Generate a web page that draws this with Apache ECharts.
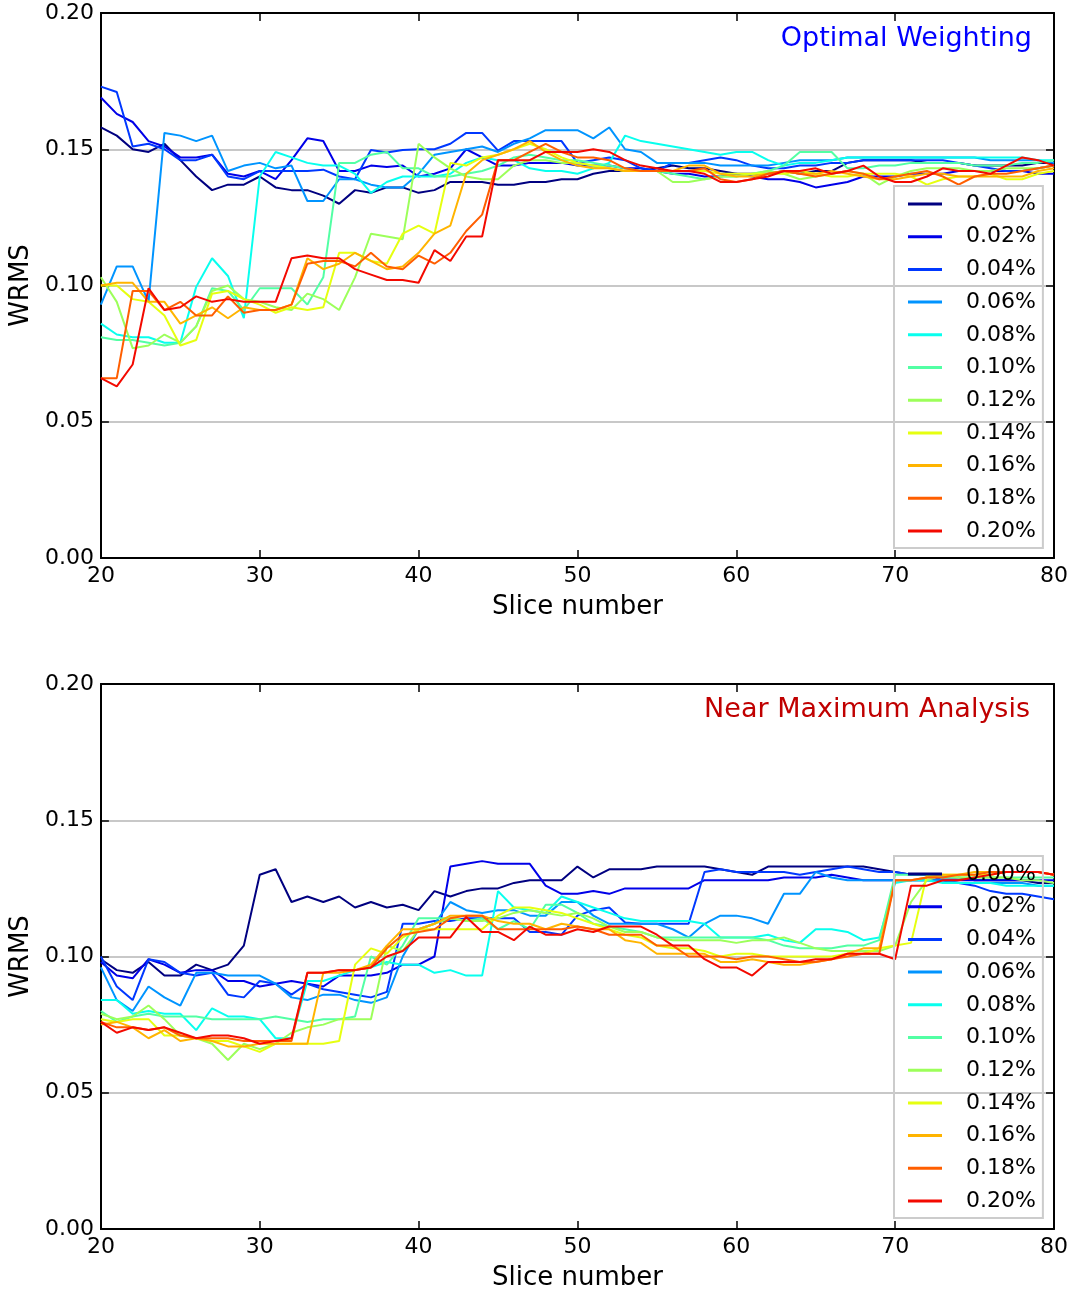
<!DOCTYPE html>
<html>
<head>
<meta charset="utf-8">
<script src="https://cdn.jsdelivr.net/npm/echarts@6/dist/echarts.min.js"></script>
<style>
  html, body { margin: 0; padding: 0; background: #ffffff; }
  #chart { width: 1072px; height: 1293px; }
</style>
</head>
<body>
<div id="chart"></div>
<script>
// Slice numbers shared by both panels
const slices = [20,21,22,23,24,25,26,27,28,29,30,31,32,33,34,35,36,37,38,39,
                40,41,42,43,44,45,46,47,48,49,50,51,52,53,54,55,56,57,58,59,
                60,61,62,63,64,65,66,67,68,69,70,71,72,73,74,75,76,77,78,79,80];

const seriesNames = ['0.00%','0.02%','0.04%','0.06%','0.08%','0.10%','0.12%','0.14%','0.16%','0.18%','0.20%'];
const yTicks = ['0.00','0.05','0.10','0.15','0.20'];

// ---- Optimal Weighting: WRMS per slice ----
const ow00 = [0.158,0.155,0.150,0.149,0.152,0.146,0.140,0.135,0.137,0.137,
              0.140,0.136,0.135,0.135,0.133,0.130,0.135,0.134,0.136,0.136,
              0.134,0.135,0.138,0.138,0.138,0.137,0.137,0.138,0.138,0.139,
              0.139,0.141,0.142,0.142,0.142,0.143,0.144,0.143,0.143,0.142,
              0.141,0.141,0.141,0.142,0.141,0.142,0.142,0.145,0.146,0.146,
              0.146,0.146,0.145,0.145,0.145,0.144,0.144,0.144,0.144,0.145,0.145];
const ow02 = [0.169,0.163,0.160,0.153,0.151,0.147,0.147,0.148,0.141,0.140,
              0.142,0.139,0.146,0.154,0.153,0.142,0.142,0.144,0.1435,0.144,
              0.140,0.141,0.143,0.150,0.147,0.144,0.144,0.145,0.145,0.145,
              0.144,0.144,0.144,0.143,0.143,0.142,0.141,0.141,0.140,0.140,
              0.141,0.140,0.139,0.139,0.138,0.136,0.137,0.138,0.140,0.140,
              0.140,0.141,0.141,0.141,0.142,0.142,0.142,0.142,0.142,0.141,0.141];
const ow04 = [0.173,0.171,0.151,0.152,0.150,0.146,0.146,0.148,0.140,0.139,
              0.142,0.142,0.142,0.142,0.1425,0.140,0.139,0.1497,0.1488,0.1497,
              0.150,0.150,0.152,0.156,0.156,0.1495,0.153,0.153,0.153,0.153,
              0.145,0.146,0.147,0.146,0.143,0.142,0.145,0.145,0.146,0.147,
              0.146,0.144,0.143,0.143,0.144,0.144,0.145,0.145,0.146,0.146,
              0.146,0.146,0.146,0.146,0.145,0.144,0.143,0.142,0.142,0.143,0.144];
const ow06 = [0.093,0.107,0.107,0.094,0.156,0.155,0.153,0.155,0.142,0.144,
              0.145,0.143,0.144,0.131,0.131,0.139,0.139,0.137,0.136,0.136,
              0.141,0.148,0.149,0.150,0.151,0.149,0.152,0.154,0.157,0.157,
              0.157,0.154,0.158,0.150,0.149,0.145,0.145,0.145,0.145,0.144,
              0.144,0.144,0.144,0.145,0.146,0.146,0.146,0.147,0.147,0.147,
              0.147,0.147,0.147,0.147,0.147,0.147,0.146,0.146,0.146,0.146,0.145];
const ow08 = [0.086,0.082,0.081,0.081,0.079,0.079,0.0995,0.110,0.1035,0.088,
              0.140,0.149,0.147,0.145,0.144,0.144,0.141,0.134,0.138,0.140,
              0.140,0.140,0.141,0.145,0.147,0.146,0.146,0.143,0.142,0.142,
              0.141,0.143,0.145,0.155,0.153,0.152,0.151,0.150,0.149,0.148,
              0.149,0.149,0.146,0.144,0.145,0.145,0.146,0.147,0.147,0.147,
              0.147,0.147,0.147,0.147,0.147,0.147,0.147,0.147,0.147,0.146,0.146];
const ow10 = [0.081,0.080,0.080,0.079,0.078,0.079,0.085,0.099,0.098,0.091,
              0.099,0.099,0.099,0.093,0.103,0.145,0.145,0.148,0.149,0.143,
              0.143,0.140,0.140,0.141,0.142,0.144,0.147,0.148,0.147,0.146,
              0.146,0.145,0.144,0.143,0.142,0.142,0.141,0.140,0.139,0.140,
              0.140,0.141,0.142,0.144,0.149,0.149,0.149,0.143,0.143,0.144,
              0.144,0.145,0.145,0.145,0.145,0.144,0.144,0.144,0.145,0.145,0.146];
const ow12 = [0.103,0.094,0.077,0.078,0.082,0.079,0.085,0.098,0.100,0.095,
              0.094,0.092,0.091,0.097,0.095,0.091,0.103,0.119,0.118,0.117,
              0.152,0.147,0.143,0.140,0.139,0.139,0.144,0.146,0.146,0.145,
              0.145,0.144,0.143,0.142,0.142,0.142,0.138,0.138,0.139,0.140,
              0.140,0.141,0.142,0.141,0.139,0.140,0.141,0.142,0.141,0.137,
              0.140,0.142,0.143,0.143,0.143,0.142,0.142,0.143,0.143,0.143,0.144];
const ow14 = [0.100,0.100,0.095,0.094,0.089,0.078,0.080,0.097,0.098,0.095,
              0.093,0.090,0.092,0.091,0.092,0.112,0.112,0.109,0.108,0.119,
              0.122,0.119,0.145,0.144,0.147,0.148,0.150,0.152,0.150,0.147,
              0.145,0.144,0.143,0.142,0.142,0.142,0.142,0.142,0.142,0.141,
              0.141,0.141,0.141,0.141,0.142,0.141,0.140,0.140,0.141,0.141,
              0.141,0.140,0.137,0.139,0.140,0.140,0.141,0.139,0.139,0.141,0.142];
const ow16 = [0.100,0.101,0.101,0.094,0.094,0.086,0.089,0.092,0.088,0.092,
              0.091,0.091,0.093,0.110,0.106,0.108,0.112,0.109,0.106,0.107,
              0.112,0.119,0.122,0.141,0.146,0.148,0.150,0.153,0.149,0.146,
              0.144,0.143,0.143,0.142,0.142,0.142,0.142,0.144,0.144,0.141,
              0.140,0.140,0.141,0.142,0.141,0.141,0.142,0.141,0.140,0.139,
              0.139,0.140,0.141,0.141,0.140,0.140,0.140,0.140,0.140,0.142,0.143];
const ow18 = [0.066,0.066,0.098,0.098,0.091,0.094,0.089,0.089,0.096,0.090,
              0.091,0.091,0.093,0.108,0.109,0.109,0.107,0.112,0.107,0.106,
              0.111,0.108,0.112,0.120,0.126,0.146,0.146,0.149,0.152,0.149,
              0.147,0.147,0.146,0.143,0.142,0.142,0.142,0.142,0.143,0.139,
              0.138,0.139,0.141,0.142,0.141,0.140,0.141,0.142,0.141,0.139,
              0.140,0.141,0.142,0.140,0.137,0.140,0.141,0.141,0.142,0.143,0.144];
const ow20 = [0.066,0.063,0.071,0.099,0.091,0.092,0.096,0.094,0.095,0.094,
              0.094,0.094,0.110,0.111,0.110,0.110,0.106,0.104,0.102,0.102,
              0.101,0.113,0.109,0.118,0.118,0.146,0.146,0.146,0.149,0.149,
              0.149,0.150,0.149,0.146,0.144,0.143,0.142,0.142,0.141,0.138,
              0.138,0.139,0.140,0.142,0.142,0.143,0.141,0.142,0.144,0.140,
              0.138,0.138,0.140,0.143,0.142,0.142,0.141,0.144,0.147,0.146,0.144];

// ---- Near Maximum Analysis: WRMS per slice ----
const nm00 = [0.099,0.095,0.094,0.098,0.093,0.093,0.097,0.095,0.097,0.104,
              0.130,0.132,0.120,0.122,0.120,0.122,0.118,0.120,0.118,0.119,
              0.117,0.124,0.122,0.124,0.125,0.125,0.127,0.128,0.128,0.128,
              0.133,0.129,0.132,0.132,0.132,0.133,0.133,0.133,0.133,0.132,
              0.131,0.130,0.133,0.133,0.133,0.133,0.133,0.133,0.133,0.132,
              0.131,0.130,0.130,0.129,0.129,0.128,0.128,0.128,0.128,0.127,0.127];
const nm02 = [0.098,0.093,0.092,0.099,0.097,0.094,0.095,0.095,0.091,0.091,
              0.089,0.090,0.091,0.090,0.089,0.093,0.093,0.093,0.094,0.097,
              0.097,0.100,0.133,0.134,0.135,0.134,0.134,0.134,0.126,0.123,
              0.123,0.124,0.123,0.125,0.125,0.125,0.125,0.125,0.128,0.128,
              0.128,0.128,0.128,0.129,0.129,0.129,0.130,0.129,0.128,0.128,
              0.128,0.128,0.128,0.128,0.128,0.128,0.128,0.128,0.128,0.128,0.128];
const nm04 = [0.100,0.089,0.084,0.099,0.098,0.094,0.093,0.094,0.086,0.085,
              0.091,0.090,0.086,0.090,0.088,0.087,0.086,0.085,0.087,0.112,
              0.112,0.113,0.113,0.114,0.114,0.114,0.114,0.109,0.109,0.108,
              0.115,0.117,0.118,0.1125,0.112,0.112,0.112,0.112,0.131,0.132,
              0.131,0.131,0.131,0.131,0.130,0.131,0.132,0.133,0.132,0.131,
              0.131,0.130,0.130,0.128,0.127,0.126,0.124,0.123,0.123,0.122,0.121];
const nm06 = [0.096,0.084,0.080,0.089,0.085,0.082,0.094,0.094,0.093,0.093,
              0.093,0.090,0.085,0.084,0.086,0.086,0.084,0.083,0.085,0.100,
              0.110,0.112,0.120,0.117,0.116,0.117,0.117,0.115,0.115,0.120,
              0.120,0.115,0.112,0.112,0.112,0.112,0.110,0.107,0.112,0.115,
              0.115,0.114,0.112,0.123,0.123,0.131,0.129,0.128,0.128,0.128,
              0.128,0.128,0.128,0.128,0.127,0.127,0.127,0.127,0.127,0.126,0.126];
const nm08 = [0.084,0.084,0.079,0.080,0.079,0.079,0.073,0.081,0.078,0.078,
              0.077,0.070,0.070,0.091,0.091,0.093,0.095,0.096,0.098,0.097,
              0.097,0.094,0.095,0.093,0.093,0.124,0.118,0.117,0.116,0.122,
              0.120,0.118,0.116,0.114,0.113,0.113,0.113,0.113,0.112,0.107,
              0.107,0.107,0.108,0.106,0.105,0.110,0.110,0.109,0.106,0.107,
              0.127,0.128,0.128,0.127,0.127,0.127,0.127,0.126,0.126,0.126,0.126];
const nm10 = [0.080,0.076,0.078,0.079,0.078,0.078,0.078,0.077,0.077,0.077,
              0.077,0.078,0.077,0.076,0.077,0.077,0.078,0.100,0.097,0.104,
              0.114,0.114,0.114,0.113,0.114,0.110,0.113,0.110,0.119,0.119,
              0.116,0.112,0.111,0.110,0.109,0.107,0.107,0.107,0.107,0.107,
              0.107,0.107,0.106,0.104,0.103,0.103,0.103,0.104,0.104,0.106,
              0.130,0.130,0.130,0.129,0.129,0.129,0.129,0.129,0.129,0.129,0.129];
const nm12 = [0.079,0.077,0.078,0.082,0.077,0.071,0.070,0.068,0.062,0.068,
              0.066,0.068,0.072,0.074,0.075,0.077,0.077,0.077,0.104,0.102,
              0.110,0.112,0.114,0.113,0.113,0.114,0.116,0.117,0.116,0.115,
              0.116,0.114,0.111,0.109,0.109,0.107,0.106,0.106,0.106,0.106,
              0.105,0.106,0.106,0.107,0.105,0.103,0.102,0.102,0.102,0.102,
              0.104,0.120,0.128,0.130,0.129,0.129,0.129,0.129,0.128,0.128,0.127];
const nm14 = [0.077,0.076,0.077,0.077,0.071,0.071,0.070,0.069,0.069,0.067,
              0.065,0.068,0.068,0.068,0.068,0.069,0.097,0.103,0.101,0.107,
              0.110,0.110,0.110,0.110,0.110,0.115,0.118,0.118,0.117,0.116,
              0.114,0.112,0.110,0.108,0.107,0.104,0.103,0.103,0.102,0.100,
              0.101,0.101,0.100,0.100,0.100,0.100,0.100,0.101,0.101,0.103,
              0.104,0.105,0.130,0.130,0.130,0.130,0.130,0.131,0.131,0.131,0.130];
const nm16 = [0.075,0.076,0.074,0.070,0.073,0.069,0.070,0.069,0.067,0.067,
              0.068,0.068,0.068,0.068,0.094,0.094,0.095,0.097,0.104,0.110,
              0.110,0.112,0.115,0.115,0.115,0.113,0.112,0.112,0.110,0.112,
              0.111,0.110,0.110,0.106,0.105,0.101,0.101,0.101,0.101,0.098,
              0.098,0.099,0.098,0.097,0.097,0.098,0.099,0.101,0.103,0.103,
              0.128,0.128,0.129,0.130,0.130,0.131,0.131,0.131,0.131,0.131,0.130];
const nm18 = [0.076,0.074,0.074,0.073,0.074,0.071,0.070,0.070,0.070,0.069,
              0.069,0.069,0.069,0.094,0.094,0.095,0.095,0.096,0.103,0.108,
              0.109,0.110,0.114,0.115,0.115,0.110,0.110,0.110,0.110,0.110,
              0.111,0.110,0.108,0.108,0.108,0.104,0.104,0.100,0.100,0.100,
              0.099,0.100,0.100,0.099,0.098,0.098,0.099,0.100,0.101,0.101,
              0.128,0.128,0.129,0.129,0.130,0.130,0.131,0.131,0.131,0.131,0.130];
const nm20 = [0.076,0.072,0.074,0.073,0.074,0.072,0.070,0.071,0.071,0.070,
              0.068,0.069,0.070,0.094,0.094,0.095,0.095,0.096,0.100,0.102,
              0.107,0.107,0.107,0.1145,0.109,0.109,0.106,0.111,0.108,0.108,
              0.110,0.109,0.111,0.111,0.111,0.108,0.104,0.104,0.099,0.096,
              0.096,0.093,0.098,0.098,0.098,0.099,0.099,0.101,0.101,0.101,
              0.099,0.126,0.126,0.128,0.128,0.129,0.130,0.131,0.131,0.131,0.130];

const owValues = [ow00, ow02, ow04, ow06, ow08, ow10, ow12, ow14, ow16, ow18, ow20];
const nmValues = [nm00, nm02, nm04, nm06, nm08, nm10, nm12, nm14, nm16, nm18, nm20];

// jet-like colour ramp, one colour per percentage
const lineColors = ['#000080','#0000e8','#0038ff','#0094ff','#08ffee','#52ffa4',
                    '#9cff5a','#e6ff10','#ffb400','#ff5e00','#f30900'];

const FONT = 'DejaVu Sans';

function makeSeries(values, axisIdx) {
  return values.map((vals, i) => ({
    name: seriesNames[i],
    type: 'line',
    xAxisIndex: axisIdx,
    yAxisIndex: axisIdx,
    data: slices.map((s, k) => [s, vals[k]]),
    showSymbol: false,
    symbol: 'none',
    lineStyle: { width: 2, color: lineColors[i] },
    itemStyle: { color: lineColors[i] },
    z: 2 + i * 0.01,
    animation: false
  }));
}

const grids = [
  { left: 99, top: 13, width: 955, height: 545 },
  { left: 99, top: 684, width: 955, height: 545 }
];

function bottomX(gi) {
  return {
    type: 'value', gridIndex: gi, min: 20, max: 80, interval: 10, position: 'bottom',
    name: 'Slice number', nameLocation: 'middle', nameGap: 36,
    nameTextStyle: { fontFamily: FONT, fontSize: 26, color: '#000' },
    axisLine: { show: true, onZero: false, lineStyle: { color: '#000', width: 2 } },
    axisTick: { show: true, inside: true, length: 8, lineStyle: { color: '#000', width: 1.5 } },
    axisLabel: { fontFamily: FONT, fontSize: 22, color: '#000', margin: 7 },
    splitLine: { show: false }
  };
}
function topX(gi) {
  return {
    type: 'value', gridIndex: gi, min: 20, max: 80, interval: 10, position: 'top',
    axisLine: { show: true, onZero: false, lineStyle: { color: '#000', width: 2 } },
    axisTick: { show: true, inside: true, length: 8, lineStyle: { color: '#000', width: 1.5 } },
    axisLabel: { show: false },
    splitLine: { show: false }
  };
}
function leftY(gi) {
  return {
    type: 'value', gridIndex: gi, min: 0, max: 0.2, interval: 0.05, position: 'left',
    name: 'WRMS', nameLocation: 'middle', nameGap: 49, nameRotate: 90,
    nameTextStyle: { fontFamily: FONT, fontSize: 26, color: '#000' },
    axisLine: { show: true, onZero: false, lineStyle: { color: '#000', width: 2 } },
    axisTick: { show: true, inside: true, length: 8, lineStyle: { color: '#000', width: 1.5 } },
    axisLabel: {
      fontFamily: FONT, fontSize: 22, color: '#000', margin: 7,
      formatter: v => yTicks[Math.round(v / 0.05)]
    },
    splitLine: { show: true, lineStyle: { color: '#c8c8c8', width: 2 } }
  };
}
function rightY(gi) {
  return {
    type: 'value', gridIndex: gi, min: 0, max: 0.2, interval: 0.05, position: 'right',
    axisLine: { show: true, onZero: false, lineStyle: { color: '#000', width: 2 } },
    axisTick: { show: true, inside: true, length: 8, lineStyle: { color: '#000', width: 1.5 } },
    axisLabel: { show: false },
    splitLine: { show: false }
  };
}

function makeLegend(top) {
  return {
    orient: 'vertical',
    left: 894, top: top,
    padding: [6, 7, 5, 14],
    itemWidth: 34, itemHeight: 3, itemGap: 8.7,
    icon: 'rect',
    selectedMode: false,
    borderColor: '#cccccc', borderWidth: 2, borderRadius: 0,
    backgroundColor: 'rgba(255,255,255,0)',
    textStyle: { fontFamily: FONT, fontSize: 22, color: '#000', lineHeight: 24, padding: [0, 0, 0, 19] },
    data: seriesNames
  };
}

const option = {
  animation: false,
  backgroundColor: '#ffffff',
  title: [
    { text: 'Optimal Weighting', right: 35, top: 20,
      textStyle: { fontFamily: FONT, fontSize: 27, fontWeight: 'normal', color: '#0000ff' } },
    { text: 'Near Maximum Analysis', right: 37, top: 691,
      textStyle: { fontFamily: FONT, fontSize: 27, fontWeight: 'normal', color: '#c00000' } }
  ],
  grid: grids,
  legend: [makeLegend(186), makeLegend(856)],
  xAxis: [bottomX(0), bottomX(1), topX(0), topX(1)],
  yAxis: [leftY(0), leftY(1), rightY(0), rightY(1)],
  series: makeSeries(owValues, 0).concat(makeSeries(nmValues, 1))
};

const chart = echarts.init(document.getElementById('chart'), null, { renderer: 'canvas' });
chart.setOption(option);
</script>
</body>
</html>
